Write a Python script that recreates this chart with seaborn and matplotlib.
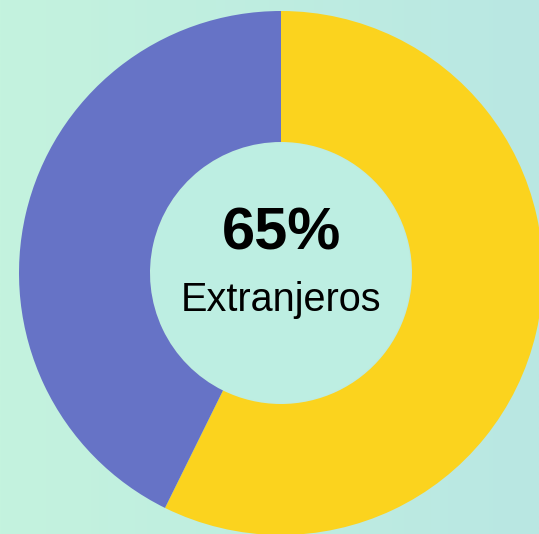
import numpy as np
import matplotlib
matplotlib.use("Agg")
import matplotlib.pyplot as plt
import seaborn as sns
from matplotlib.colors import LinearSegmentedColormap

sns.set_theme(style="white")
plt.rcParams['font.family'] = ['Liberation Sans', 'DejaVu Sans']

# datos
categorias = ["Extranjeros", "Nacionales"]
valores = [57.3, 42.7]
colores = ["#fbd31e", "#6673c6"]
etiqueta_pct = "65%"
etiqueta_txt = "Extranjeros"

fig = plt.figure(figsize=(5.39, 5.34), dpi=100)

# fondo degradado
ax_bg = fig.add_axes([0, 0, 1, 1])
grad = np.linspace(0, 1, 256).reshape(1, -1)
cmap_bg = LinearSegmentedColormap.from_list("bg", ["#c4f3de", "#b9e7e3"])
ax_bg.imshow(grad, aspect="auto", cmap=cmap_bg, extent=[0, 1, 0, 1])
ax_bg.axis("off")

ax = fig.add_axes([0, 0, 1, 1])
ax.patch.set_alpha(0)
R = 262
ax.pie(valores, colors=colores, radius=R, startangle=90, counterclock=False,
       wedgeprops=dict(width=R / 2, linewidth=0), frame=True)
ax.add_patch(plt.Circle((0, 0), R / 2 - 1, facecolor="#bdeee2", edgecolor="none", zorder=3))
ax.set_xlim(-281, 539 - 281)
ax.set_ylim(-(534 - 273), 273)
ax.set_aspect("equal")
ax.axis("off")

ax.text(1, 39, etiqueta_pct, ha="center", va="center", fontsize=43,
        fontweight="bold", color="black", zorder=4)
ax.text(0, -27, etiqueta_txt, ha="center", va="center", fontsize=28.5,
        color="black", zorder=4)

fig.savefig("out.png", dpi=100)
